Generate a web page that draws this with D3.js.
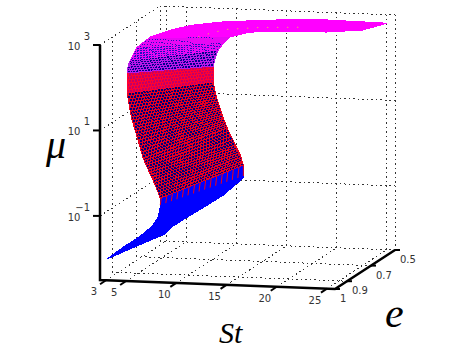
<!DOCTYPE html>
<style>
body { margin: 0; background: #fff; }
svg { display: block; }
.grid { fill: none; stroke: #333; stroke-dasharray: 1.5 3; shape-rendering: crispEdges; }
.axis { stroke: #000; stroke-width: 2.5; fill: none; }
.tick { stroke: #000; stroke-width: 2; }
.lab { font: 10px "DejaVu Sans", sans-serif; fill: #333; }
.title { font-family: "Liberation Serif", serif; font-style: italic; fill: #000; }
</style>
<svg width="467" height="350"></svg>
<script src="https://cdn.jsdelivr.net/npm/d3@7"></script>
<script>

// axis ticks
var stTicks = [3, 5, 10, 15, 20, 25],
    eTicks = [1, 0.9, 0.7, 0.5],
    muExps = [-1, 1, 3];

// surface: e = 1 edge and e = 0.5 edge, row by row
var stFront = [3.1, 4.9, 6.4, 7.6, 8.2, 8.4, 8.4, 7.9, 7.3, 6.7, 6.1, 5.6, 5.3, 5.1, 5.1, 5.1, 5.2, 5.4, 6.1, 7.4, 9.4, 11.4, 14.6, 19, 22.6, 25],
    muFront = [-2, -1.68, -1.44, -1.19, -0.97, -0.72, -0.53, -0.23, 0.07, 0.39, 0.88, 1.27, 1.62, 1.9, 2.13, 2.37, 2.53, 2.67, 2.98, 3.23, 3.41, 3.54, 3.65, 3.73, 3.78, 3.79],
    stBack = [2.9, 3.7, 5.1, 7.1, 8.7, 10.7, 10.7, 10.4, 9.9, 9.1, 8.6, 8.2, 7.9, 7.7, 7.7, 7.7, 7.9, 8.2, 8.8, 9.4, 10.4, 11.4, 14.7, 19, 22.6, 25],
    muBack = [-2.33, -2.14, -1.92, -1.62, -1.37, -0.95, -0.65, -0.42, -0.19, 0.2, 0.5, 0.78, 1.03, 1.27, 1.48, 1.64, 1.83, 2.02, 2.21, 2.34, 2.41, 2.47, 2.52, 2.54, 2.62, 2.8];

// which look each strip between two rows gets
var zones = ["solid", "solid", "solid", "solid", "solid", "streak", "mesh", "mesh", "mesh", "mesh", "mesh", "mesh", "mesh", "band", "band", "purple", "purple", "purple2", "purple2", "magenta", "magenta", "magenta", "magenta", "magenta", "magenta"];

var zoneStyle = {
  solid: {fill: "#0000ff", stroke: "#0000ff"},
  streak: {fill: "#0000ff", stroke: "#0000ff"},
  mesh: {fill: "#00007c", stroke: "#e80020"},
  band: {fill: "#c00068", stroke: "#ff0030"},
  purple: {fill: "#00008c", stroke: "#b818e8"},
  purple2: {fill: "#2010c0", stroke: "#e808f4"},
  magenta: {fill: "#ff00ff", stroke: "#ff00ff"}
};

var svg = d3.select("svg");

var xSt = d3.scaleLinear().domain([2.4, 25.8]).range([100, 335]),
    ySt = d3.scaleLinear().domain([2.4, 25.8]).range([280, 289]),
    xE = d3.scaleLinear().domain([1, 0.5]).range([0, 60]),
    yE = d3.scaleLinear().domain([1, 0.5]).range([0, -39]),
    yMu = d3.scaleLog().domain([Math.pow(10, -2.5), 1000]).range([0, -235]);

function project(st, e, exp) {
  return [xSt(st) + xE(e), ySt(st) + yE(e) + yMu(Math.pow(10, exp))];
}

var line = d3.line();
var stMin = 2.4, stMax = 25.8, eMin = 0.5, eMax = 1, expMin = -2.5, expMax = 3;

// floor, back wall and side wall
var gridLines = [];
stTicks.forEach(function(s) {
  gridLines.push([project(s, eMax, expMin), project(s, eMin, expMin)]);
  gridLines.push([project(s, eMin, expMin), project(s, eMin, expMax)]);
});
eTicks.forEach(function(e) {
  gridLines.push([project(stMin, e, expMin), project(stMax, e, expMin)]);
  gridLines.push([project(stMin, e, expMin), project(stMin, e, expMax)]);
});
muExps.forEach(function(m) {
  gridLines.push([project(stMin, eMax, m), project(stMin, eMin, m)]);
  gridLines.push([project(stMin, eMin, m), project(stMax, eMin, m)]);
});
gridLines.push([project(stMin, eMin, expMin), project(stMin, eMin, expMax)]);
gridLines.push([project(stMax, eMin, expMin), project(stMax, eMin, expMax)]);

svg.append("g").selectAll("path")
    .data(gridLines)
  .enter().append("path")
    .attr("class", "grid")
    .attr("d", line);

// facets of the surface
var cols = 30, facets = [], streaks = [], rowCount = 0;

function rowAt(i, u) {
  return {
    sf: stFront[i] + (stFront[i + 1] - stFront[i]) * u,
    mf: muFront[i] + (muFront[i + 1] - muFront[i]) * u,
    sb: stBack[i] + (stBack[i + 1] - stBack[i]) * u,
    mb: muBack[i] + (muBack[i + 1] - muBack[i]) * u
  };
}

function onRow(r, t) {
  t = Math.max(0, Math.min(1, t));
  return project(r.sf + (r.sb - r.sf) * t, eMax + (eMin - eMax) * t, r.mf + (r.mb - r.mf) * t);
}

zones.forEach(function(zone, i) {
  var a = onRow(rowAt(i, 0), 0), b = onRow(rowAt(i, 1), 0),
      c = onRow(rowAt(i, 0), 1), d = onRow(rowAt(i, 1), 1),
      dist = Math.max(Math.hypot(a[0] - b[0], a[1] - b[1]), Math.hypot(c[0] - d[0], c[1] - d[1])),
      n = Math.max(1, Math.round(dist / 3));
  d3.range(n).forEach(function(k) {
    var r0 = rowAt(i, k / n), r1 = rowAt(i, (k + 1) / n),
        shift = (rowCount++ % 2) * 0.5;
    d3.range(-1, cols).forEach(function(j) {
      var t0 = (j + shift) / cols, t1 = (j + 1 + shift) / cols;
      if (t1 <= 0) return;
      facets.push({zone: zone, pts: [onRow(r0, t0), onRow(r0, t1), onRow(r1, t1), onRow(r1, t0), onRow(r0, t0)]});
    });
  });
  if (zone == "streak") {
    d3.range(0, cols + 1, 2).forEach(function(j) {
      streaks.push([onRow(rowAt(i, 0.15), j / cols), onRow(rowAt(i, 1), (j + 0.4) / cols)]);
    });
  }
});

svg.append("g").selectAll("path")
    .data(facets)
  .enter().append("path")
    .attr("d", function(d) { return line(d.pts); })
    .attr("fill", function(d) { return zoneStyle[d.zone].fill; })
    .attr("stroke", function(d) { return zoneStyle[d.zone].stroke; })
    .attr("stroke-width", 1)
    .attr("shape-rendering", "crispEdges");

svg.append("g").selectAll("path")
    .data(streaks)
  .enter().append("path")
    .attr("d", line)
    .attr("stroke", "#f00014")
    .attr("stroke-width", 1);

// yellow specks on the top tongue
var speckRows = d3.range(19, 24);
svg.append("path")
    .attr("d", line(speckRows.map(function(i) { return onRow(rowAt(i, 0), 0.6); })))
    .attr("fill", "none")
    .attr("stroke", "#e8e020")
    .attr("stroke-dasharray", "1 9");

// axes
svg.append("path").attr("class", "axis")
    .attr("d", line([project(stMin, eMax, expMax), project(stMin, eMax, expMin), project(stMax, eMax, expMin), project(stMax, eMin, expMin)]));

var ax = svg.append("g");

stTicks.forEach(function(s) {
  var p = project(s, eMax, expMin);
  ax.append("line").attr("class", "tick")
      .attr("x1", p[0]).attr("y1", p[1])
      .attr("x2", p[0] - 6).attr("y2", p[1] + 4);
  ax.append("text").attr("class", "lab")
      .attr("x", p[0] - 12).attr("y", p[1] + 15)
      .attr("text-anchor", "middle")
      .text(s);
});

eTicks.forEach(function(e) {
  var p = project(stMax, e, expMin);
  ax.append("line").attr("class", "tick")
      .attr("x1", p[0]).attr("y1", p[1])
      .attr("x2", p[0] + 5).attr("y2", p[1]);
  ax.append("text").attr("class", "lab")
      .attr("x", p[0] + 5).attr("y", p[1] + 13)
      .text(e);
});

muExps.forEach(function(m) {
  var p = project(stMin, eMax, m);
  ax.append("line").attr("class", "tick")
      .attr("x1", p[0]).attr("y1", p[1])
      .attr("x2", p[0] - 7).attr("y2", p[1]);
  ax.append("text").attr("class", "lab")
      .attr("x", p[0] - 26).attr("y", p[1] + 5)
      .attr("text-anchor", "middle")
      .text("10");
  ax.append("text").attr("class", "lab")
      .attr("x", p[0] - 10).attr("y", p[1] - 5)
      .attr("text-anchor", "end")
      .text(m < 0 ? "\u2212" + (-m) : m);
});

svg.append("text").attr("class", "title").attr("x", 46).attr("y", 158).attr("font-size", 40).text("\u03bc");
svg.append("text").attr("class", "title").attr("x", 219).attr("y", 343).attr("font-size", 30).text("St");
svg.append("text").attr("class", "title").attr("x", 385).attr("y", 327).attr("font-size", 42).text("e");

</script>
